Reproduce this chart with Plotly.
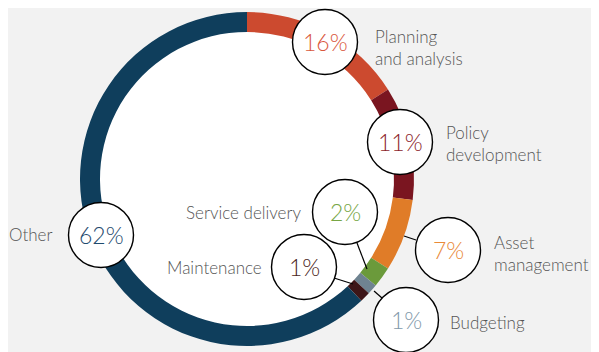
import plotly.graph_objects as go

# data (clockwise from 12 o'clock)
categories = ["Planning and analysis", "Policy development", "Asset management",
              "Service delivery", "Budgeting", "Maintenance", "Other"]
shares = [16, 11, 7, 2, 1, 1, 62]
pct_labels = ["16%", "11%", "7%", "2%", "1%", "1%", "62%"]

slice_colors = ["#cc4a2f", "#7a1520", "#e07c28", "#6b9a3b", "#6f8391", "#3e1618", "#0f3e5c"]
text_colors = ["#d9573c", "#8c1e2b", "#e98a38", "#77a645", "#8299aa", "#4a1f22", "#1f4b6e"]

W, H = 599, 352
OFF = 8  # page body margin: figure sits 8px in from the window corner
CX, CY, R_OUT, R_IN = 247, 179, 167, 147

# label circle centres (window px) and radius
bubble_pos = [(325, 42), (400, 142), (448, 250), (345, 212), (406, 320), (304, 267), (101, 235)]
BR = 32.5

# leader lines for the small slices
leaders = [((404, 236), (416, 240)),
           ((357, 243), (367, 269)),
           ((374, 291), (382, 298)),
           ((334, 278), (353, 284))]

# category text: (text, x, y centre, anchor)
cat_text = [
    ("Planning<br>and analysis", 373, 47, "left"),
    ("Policy<br>development", 444, 143, "left"),
    ("Asset<br>management", 492, 253, "left"),
    ("Service delivery", 303, 212, "right"),
    ("Budgeting", 448, 322, "left"),
    ("Maintenance", 264, 267, "right"),
    ("Other", 54, 234, "right"),
]

FONT = "Lato"
GREY = "#555555"

fig = go.Figure()
fig.add_trace(go.Scatter(x=[OFF, W + OFF], y=[OFF, H + OFF], mode="markers",
                         marker=dict(opacity=0), hoverinfo="skip", showlegend=False))
fig.add_trace(go.Pie(
    labels=categories, values=shares, sort=False, direction="clockwise", rotation=0,
    hole=R_IN / R_OUT, textinfo="none", hoverinfo="label+percent",
    marker=dict(colors=slice_colors, line=dict(width=0)),
    domain=dict(x=[(CX - OFF - R_OUT) / W, (CX - OFF + R_OUT) / W],
                y=[1 - (CY - OFF + R_OUT) / H, 1 - (CY - OFF - R_OUT) / H]),
    showlegend=False,
))

shapes = [dict(type="circle", layer="below", xref="x", yref="y",
               x0=CX - R_IN - 2, x1=CX + R_IN + 2, y0=CY - R_IN - 2, y1=CY + R_IN + 2,
               fillcolor="white", line=dict(width=0))]
for (x0, y0), (x1, y1) in leaders:
    shapes.append(dict(type="line", xref="x", yref="y", x0=x0, y0=y0, x1=x1, y1=y1,
                       line=dict(color="black", width=1.2)))
for (bx, by) in bubble_pos:
    shapes.append(dict(type="circle", xref="x", yref="y",
                       x0=bx - BR, x1=bx + BR, y0=by - BR, y1=by + BR,
                       fillcolor="white", line=dict(color="black", width=1.4)))

annotations = []
for (bx, by), t, c in zip(bubble_pos, pct_labels, text_colors):
    annotations.append(dict(x=bx, y=by, xref="x", yref="y", text=t, showarrow=False,
                            font=dict(family=FONT, size=23, color=c, weight=300)))
for txt, x, y, anchor in cat_text:
    annotations.append(dict(x=x, y=y, xref="x", yref="y", text=txt, showarrow=False,
                            xanchor=anchor, yanchor="middle", align=anchor,
                            font=dict(family=FONT, size=17, color=GREY, weight=300)))

fig.update_layout(
    width=W, height=H,
    margin=dict(l=0, r=0, t=0, b=0),
    paper_bgcolor="#f2f2f2", plot_bgcolor="rgba(0,0,0,0)",
    xaxis=dict(range=[OFF, W + OFF], visible=False, fixedrange=True),
    yaxis=dict(range=[H + OFF, OFF], visible=False, fixedrange=True),
    shapes=shapes, annotations=annotations,
)

fig.write_html("out.html")
